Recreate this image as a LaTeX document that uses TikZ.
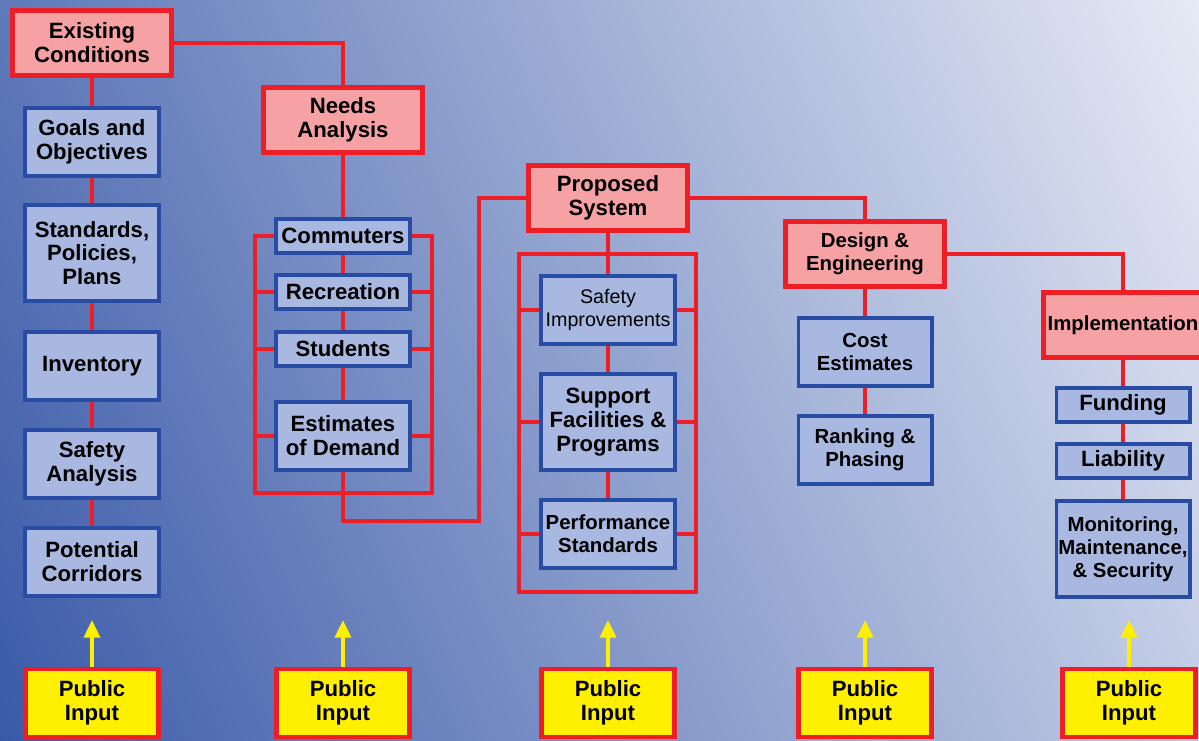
\documentclass[tikz,border=0pt]{standalone}
\usepackage{fontspec}
\setmainfont{Liberation Sans}
\usepackage{xcolor}
\usepackage{tikz}
\usetikzlibrary{arrows.meta, positioning, calc}

\definecolor{bgdark}{RGB}{58,90,168}
\definecolor{bglight}{RGB}{230,234,245}
\definecolor{linkred}{RGB}{238,30,38}
\definecolor{stagepink}{RGB}{246,162,164}
\definecolor{itemblue}{RGB}{168,184,224}
\definecolor{itemedge}{RGB}{40,76,164}
\definecolor{inputyellow}{RGB}{255,240,0}

\begin{document}
\begin{tikzpicture}[
        stage/.style={rectangle, draw=linkred, line width=2.6pt, fill=stagepink, minimum width=3.19cm, minimum height=1.31cm, align=center, inner sep=1pt, font=\bfseries\fontsize{12.6}{13.6}\selectfont},
        item/.style={rectangle, draw=itemedge, line width=2pt, fill=itemblue, minimum width=2.67cm, minimum height=1.35cm, align=center, inner sep=1pt, font=\bfseries\fontsize{12.6}{13.6}\selectfont},
        shortbox/.style={minimum height=0.67cm},
        tallbox/.style={minimum height=1.91cm},
        tight/.style={font=\bfseries\fontsize{11.6}{13.2}\selectfont},
        public/.style={rectangle, draw=linkred, line width=2.3pt, fill=inputyellow, minimum width=2.66cm, minimum height=1.36cm, align=center, inner sep=1pt, font=\bfseries\fontsize{12.6}{13.6}\selectfont},
        link/.style={draw=linkred, line width=2.3pt},
        inarrow/.style={draw=inputyellow, line width=2.2pt, -{Triangle[width=9pt,length=10pt]}}
    ]

        % --- Background ---
        \useasboundingbox (0,0) rectangle (23.98,-14.82);
        \begin{scope}
            \clip (0,0) rectangle (23.98,-14.82);
            \shade[left color=bgdark, right color=bglight, transform canvas={rotate around={24:(11.99,-7.41)}}] (-1.99,-21.41) rectangle (25.97,6.59);
        \end{scope}

        % --- Column 1: Existing Conditions ---
        \node[stage] (EC) at (1.84,-0.86) {Existing\\Conditions};
        \node[item] (GO) at (1.84,-2.84) {Goals and\\Objectives};
        \node[item, tallbox] (SPP) at (1.84,-5.06) {Standards,\\Policies,\\Plans};
        \node[item] (INV) at (1.84,-7.32) {Inventory};
        \node[item] (SA) at (1.84,-9.28) {Safety\\Analysis};
        \node[item] (PC) at (1.84,-11.24) {Potential\\Corridors};

        \draw[link] (EC) -- (GO);
        \draw[link] (GO) -- (SPP);
        \draw[link] (SPP) -- (INV);
        \draw[link] (INV) -- (SA);
        \draw[link] (SA) -- (PC);

        % --- Column 2: Needs Analysis ---
        \node[stage] (NA) at (6.86,-2.40) {Needs\\Analysis};
        \node[item, shortbox] (COM) at (6.86,-4.72) {Commuters};
        \node[item, shortbox] (REC) at (6.86,-5.84) {Recreation};
        \node[item, shortbox] (STU) at (6.86,-6.98) {Students};
        \node[item] (EST) at (6.86,-8.72) {Estimates\\of Demand};

        \draw[link] (EC.east) -| (NA.north);
        \draw[link] (NA) -- (COM);
        \draw[link] (COM) -- (REC);
        \draw[link] (REC) -- (STU);
        \draw[link] (STU) -- (EST);

        % bracket round the needs
        \coordinate (NBL) at (5.10,-9.86);
        \coordinate (NBR) at (8.64,-9.86);
        \draw[link] (COM.west) -| (NBL) -- (NBR) |- (COM.east);
        \foreach \n in {REC, STU, EST} {
            \draw[link] (\n.west) -- (\n.west -| NBL);
            \draw[link] (\n.east) -- (\n.east -| NBR);
        }

        % --- Column 3: Proposed System ---
        \node[stage] (PS) at (12.16,-3.96) {Proposed\\System};
        \node[item, font=\mdseries\fontsize{11.2}{13.2}\selectfont] (SI) at (12.16,-6.20) {Safety\\Improvements};
        \node[item, tallbox] (SF) at (12.16,-8.44) {Support\\Facilities \&\\Programs};
        \node[item, tight] (PST) at (12.16,-10.68) {Performance\\Standards};

        \coordinate (TURN) at (9.58,-10.42);
        \draw[link] (EST.south) |- (TURN) |- (PS.west);
        \draw[link] (PS) -- (SI);
        \draw[link] (SI) -- (SF);
        \draw[link] (SF) -- (PST);

        % bracket round the system
        \coordinate (PTL) at (10.38,-5.08);
        \coordinate (PBR) at (13.92,-11.84);
        \draw[link] (PTL) rectangle (PBR);
        \foreach \n in {SI, SF, PST} {
            \draw[link] (\n.west) -- (\n.west -| PTL);
            \draw[link] (\n.east) -- (\n.east -| PBR);
        }

        % --- Column 4: Design & Engineering ---
        \node[stage, tight] (DE) at (17.30,-5.08) {Design \&\\Engineering};
        \node[item, tight] (CE) at (17.30,-7.04) {Cost\\Estimates};
        \node[item, tight] (RP) at (17.30,-9.00) {Ranking \&\\Phasing};

        \draw[link] (PS.east) -| (DE.north);
        \draw[link] (DE) -- (CE);
        \draw[link] (CE) -- (RP);

        % --- Column 5: Implementation ---
        \node[stage, tight] (IM) at (22.46,-6.50) {Implementation};
        \node[item, shortbox] (FU) at (22.46,-8.10) {Funding};
        \node[item, shortbox] (LI) at (22.46,-9.22) {Liability};
        \node[item, tallbox, tight] (MO) at (22.46,-10.98) {Monitoring,\\Maintenance,\\\& Security};

        \draw[link] (DE.east) -| (IM.north);
        \draw[link] (IM) -- (FU);
        \draw[link] (FU) -- (LI);
        \draw[link] (LI) -- (MO);

        % --- Bottom: Public Input ---
        \foreach \i/\x in {1/1.84, 2/6.86, 3/12.16, 4/17.30, 5/22.58} {
            \node[public] (PI\i) at (\x,-14.06) {Public\\Input};
            \coordinate (TIP\i) at (\x,-12.40);
            \draw[inarrow] (PI\i) -- (TIP\i);
        }

    \end{tikzpicture}
\end{document}
